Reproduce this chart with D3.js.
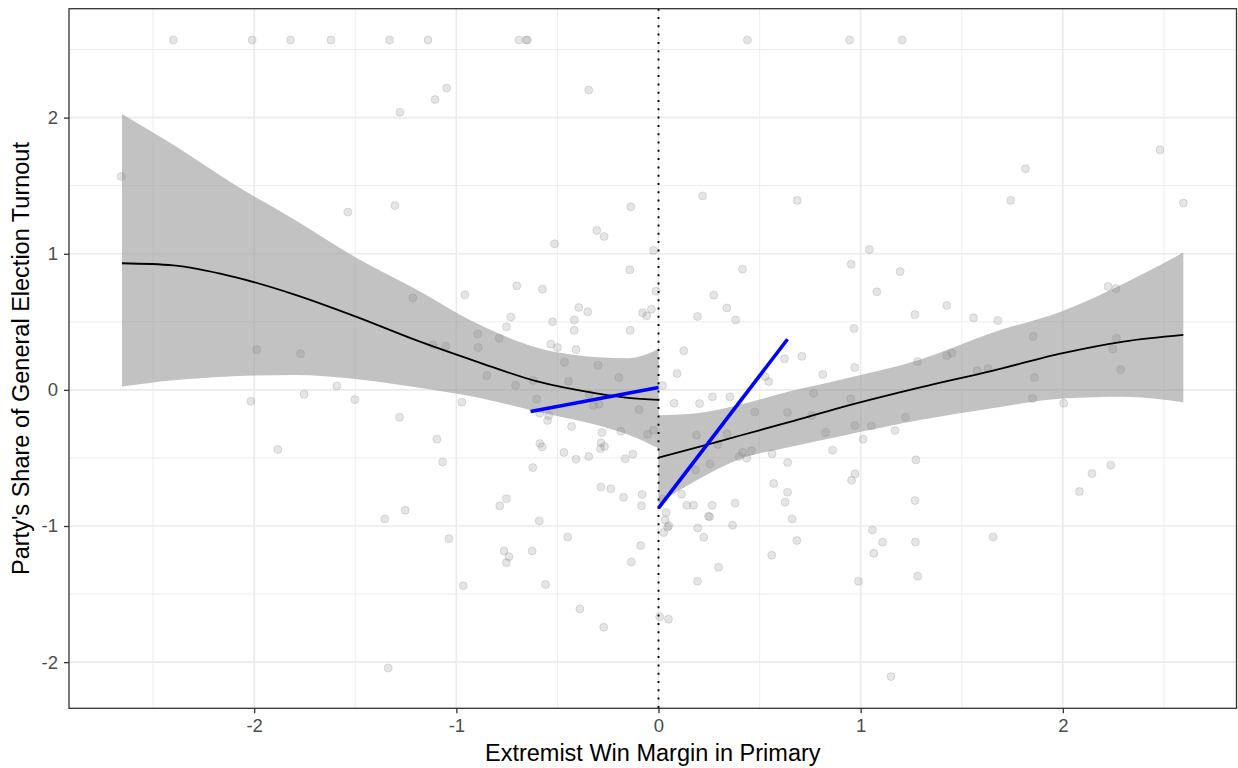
<!DOCTYPE html>
<html>
<head>
<meta charset="utf-8">
<script src="https://cdn.jsdelivr.net/npm/d3@7"></script>
<style>
  html, body { margin: 0; padding: 0; background: #ffffff; }
  svg { display: block; font-family: "Liberation Sans", Arial, sans-serif; }
</style>
</head>
<body>
<svg id="chart" width="1238" height="768"></svg>
<script>
// Extremist win margin (x) and party's share of general-election turnout (y) per race
const margin = [
  -2.40, -2.01, -1.82, -1.62, -1.33, -1.14, -0.69, -0.655, -0.648, 0.44, 0.945, 1.205,
  -1.048, -1.105, -1.279, -2.658, -1.537, -1.304,
  -0.345, 0.218, 0.686, -0.137, -0.305, -0.269, -0.514, -0.025,
  2.481, 1.815, 1.742, 2.596, 1.043,
  -1.215, -0.958, -0.894, -0.892, -1.116, -1.052, -1.987, -1.771, -1.591, -1.753, -2.016, -1.502, -0.973, -1.281, -1.096, -1.068, -1.883, -1.253,
  -1.354, -1.037, -0.966, -1.337,
  -0.142, 0.415, 0.953, -0.701, -0.574, -0.013, 0.273, 0.338, 0.382, 0.193, -0.394, -0.350, -0.079, -0.058, -0.035, -0.730, -0.752, -0.524, -0.417, -0.417, -0.140,
  -0.788, -0.533, -0.500, -0.408, 0.125, 0.967, 0.971, 0.623, 0.709, -0.465, -0.299, -0.849, -0.196, 0.092, 0.527, 0.545, 0.813, -0.445, -0.707, -0.620, 0.020,
  0.767, 0.951, -0.343, -0.603, -0.321, -0.294, -0.096, 0.077, 0.203, 0.267, 0.353, 0.476, 0.638, 0.758, 0.827, 0.971, -0.587, -0.543, -0.549, -0.430,
  -0.186, -0.054, -0.025, -0.280, -0.587, -0.576, -0.284, -0.267, -0.287, -0.468, -0.408, -0.345, -0.165, -0.127, -0.622, 0.188, 0.293, 0.339, 0.254,
  0.183, 0.399, 0.415, 0.437, 0.460, 0.562, 0.639, 0.861, 0.972, 0.955, 0.570, 0.638, 0.626, 0.379, 0.265, 0.173, 0.140, 0.114, 0.020, -0.285, -0.236,
  -0.173, -0.081, -0.084, -0.752, -0.785,
  0.038, 0.033, 0.051, 0.045, 0.025, 0.247, 0.253, 0.366, 0.194, 0.224, 0.661, 0.684, 0.560, 0.297, 0.193, 0.989, -0.088, -0.134, -0.449, -0.590,
  -0.764, -0.740, -0.752, -0.625, -0.559, -0.389, -0.271, 0.006, 0.049,
  1.195, 1.080, 1.268, 1.426, 1.558, 1.678, 1.853, 2.224, 2.262, 2.265, 2.247, 2.286, 1.281, 1.426, 1.451, 1.576, 1.630, 1.860, 1.850, 2.004,
  1.053, 1.222, 1.170, 1.012, 1.273, 1.269, 2.237, 2.144, 2.082,
  1.058, 1.108, 1.065, 1.271, 1.282, 1.655, 1.150
];
const turnout = [
  2.57, 2.57, 2.57, 2.57, 2.57, 2.57, 2.57, 2.57, 2.57, 2.57, 2.57, 2.57,
  2.217, 2.133, 2.040, 1.567, 1.306, 1.354,
  2.202, 1.425, 1.391, 1.345, 1.171, 1.127, 1.073, 1.024,
  1.763, 1.624, 1.391, 1.372, 1.031,
  0.674, 0.698, 0.411, 0.311, 0.331, 0.321, 0.296, 0.265, 0.029, -0.032, -0.083, -0.071, -0.090, -0.201, -0.362, -0.529, -0.438, -0.885,
  -0.948, -1.093, -1.438, -2.043,
  0.882, 0.887, 0.923, 0.764, 0.740, 0.725, 0.696, 0.602, 0.514, 0.539, 0.605, 0.573, 0.566, 0.544, 0.593, 0.536, 0.463, 0.500, 0.514, 0.438, 0.438,
  0.380, 0.336, 0.311, 0.296, 0.287, 0.451, 0.164, 0.228, 0.247, 0.203, 0.181, 0.105, 0.091, 0.120, 0.098, 0.061, 0.113, 0.064, 0.034, 0.069, 0.032,
  -0.025, -0.066, -0.032, -0.069, -0.115, -0.105, -0.145, -0.098, -0.100, -0.051, -0.051, -0.162, -0.166, -0.188, -0.313, -0.262, -0.171, -0.188, -0.225, -0.269,
  -0.304, -0.326, -0.296, -0.313, -0.394, -0.419, -0.389, -0.416, -0.431, -0.460, -0.509, -0.490, -0.505, -0.473, -0.571, -0.333, -0.402, -0.323, -0.544,
  -0.588, -0.490, -0.458, -0.502, -0.448, -0.470, -0.534, -0.443, -0.617, -0.664, -0.688, -0.752, -0.825, -0.833, -0.848, -0.848, -0.848, -0.767, -0.803, -0.713, -0.727,
  -0.789, -0.769, -0.852, -0.799, -0.852,
  -0.901, -0.955, -0.997, -1.009, -1.048, -0.928, -0.932, -0.994, -1.014, -1.082, -0.948, -1.107, -1.215, -1.303, -1.406, -1.406, -1.144, -1.264, -1.080, -0.963,
  -1.183, -1.225, -1.269, -1.183, -1.430, -1.609, -1.744, -1.666, -1.685,
  0.869, 0.720, 0.553, 0.620, 0.529, 0.509, 0.392, 0.759, 0.744, 0.380, 0.301, 0.149, 0.208, 0.252, 0.270, 0.140, 0.157, 0.091, -0.064, -0.098,
  -0.265, -0.201, -0.299, -0.362, -0.514, -0.813, -0.553, -0.615, -0.747,
  -1.029, -1.119, -1.200, -1.117, -1.369, -1.080, -2.106
];

// Loess fit with 95% band, below the threshold (extremist lost)
const leftX   = [-2.654, -2.4, -2.1, -1.8, -1.5, -1.2, -0.9, -0.6, -0.3, -0.15, 0];
const leftFit = [0.930, 0.915, 0.830, 0.700, 0.540, 0.365, 0.208, 0.062, -0.027, -0.058, -0.073];
const leftLo  = [0.024, 0.070, 0.100, 0.110, 0.080, 0.020, -0.055, -0.160, -0.260, -0.330, -0.429];
const leftHi  = [2.026, 1.800, 1.510, 1.250, 0.975, 0.740, 0.490, 0.310, 0.240, 0.232, 0.300];

// Loess fit with 95% band, above the threshold (extremist won)
const rightX   = [0, 0.2, 0.4, 0.65, 0.9, 1.3, 1.65, 2.0, 2.3, 2.596];
const rightFit = [-0.497, -0.419, -0.337, -0.235, -0.130, 0.020, 0.140, 0.270, 0.355, 0.404];
const rightLo  = [-0.835, -0.655, -0.510, -0.420, -0.340, -0.220, -0.135, -0.063, -0.050, -0.090];
const rightHi  = [-0.186, -0.170, -0.110, -0.010, 0.075, 0.225, 0.420, 0.580, 0.780, 1.009];

// Local linear RD fits on each side of the cutoff
const rdLeftX  = [-0.633, 0];
const rdLeftY  = [-0.159, 0.017];
const rdRightX = [0, 0.638];
const rdRightY = [-0.869, 0.372];

const xMajor = [-2, -1, 0, 1, 2];
const xMinor = [-2.5, -1.5, -0.5, 0.5, 1.5, 2.5];
const yMajor = [-2, -1, 0, 1, 2];
const yMinor = [-1.5, -0.5, 0.5, 1.5, 2.5];

const xTitle = "Extremist Win Margin in Primary";
const yTitle = "Party's Share of General Election Turnout";

const svg = d3.select("#chart");
const panel = { left: 69, right: 1236.5, top: 8.7, bottom: 708.3 };

const x = d3.scaleLinear().domain([-2.916, 2.859]).range([panel.left, panel.right]);
const y = d3.scaleLinear().domain([-2.339, 2.800]).range([panel.bottom, panel.top]);

svg.append("rect").attr("width", 1238).attr("height", 768).attr("fill", "#ffffff");

svg.append("clipPath").attr("id", "panel-clip")
  .append("rect")
  .attr("x", panel.left).attr("y", panel.top)
  .attr("width", panel.right - panel.left).attr("height", panel.bottom - panel.top);

const plot = svg.append("g").attr("clip-path", "url(#panel-clip)");

// grid
plot.selectAll("line.xminor").data(xMinor).join("line")
  .attr("x1", d => x(d)).attr("x2", d => x(d))
  .attr("y1", panel.top).attr("y2", panel.bottom)
  .attr("stroke", "#ebebeb").attr("stroke-width", 0.9);
plot.selectAll("line.yminor").data(yMinor).join("line")
  .attr("y1", d => y(d)).attr("y2", d => y(d))
  .attr("x1", panel.left).attr("x2", panel.right)
  .attr("stroke", "#ebebeb").attr("stroke-width", 0.9);
plot.selectAll("line.xmajor").data(xMajor).join("line")
  .attr("x1", d => x(d)).attr("x2", d => x(d))
  .attr("y1", panel.top).attr("y2", panel.bottom)
  .attr("stroke", "#ebebeb").attr("stroke-width", 1.6);
plot.selectAll("line.ymajor").data(yMajor).join("line")
  .attr("y1", d => y(d)).attr("y2", d => y(d))
  .attr("x1", panel.left).attr("x2", panel.right)
  .attr("stroke", "#ebebeb").attr("stroke-width", 1.6);

// confidence bands
function band(xs, lo, hi) {
  return d3.area()
    .x((d, i) => x(xs[i]))
    .y0((d, i) => y(lo[i]))
    .y1((d, i) => y(hi[i]))
    .curve(d3.curveMonotoneX)(xs);
}
plot.append("path").attr("d", band(leftX, leftLo, leftHi)).attr("fill", "#999999").attr("fill-opacity", 0.6);
plot.append("path").attr("d", band(rightX, rightLo, rightHi)).attr("fill", "#999999").attr("fill-opacity", 0.6);

// scatter
plot.append("g").selectAll("circle").data(margin).join("circle")
  .attr("cx", d => x(d))
  .attr("cy", (d, i) => y(turnout[i]))
  .attr("r", 4)
  .attr("fill", "#7f7f7f").attr("fill-opacity", 0.2)
  .attr("stroke", "#7f7f7f").attr("stroke-opacity", 0.22).attr("stroke-width", 1);

// loess lines
function fitLine(xs, ys) {
  return d3.line().x((d, i) => x(xs[i])).y((d, i) => y(ys[i])).curve(d3.curveMonotoneX)(xs);
}
plot.append("path").attr("d", fitLine(leftX, leftFit)).attr("fill", "none").attr("stroke", "#000000").attr("stroke-width", 1.8);
plot.append("path").attr("d", fitLine(rightX, rightFit)).attr("fill", "none").attr("stroke", "#000000").attr("stroke-width", 1.8);

// threshold
plot.append("line")
  .attr("x1", x(0)).attr("x2", x(0))
  .attr("y1", panel.top).attr("y2", panel.bottom)
  .attr("stroke", "#000000").attr("stroke-width", 1.9)
  .attr("stroke-dasharray", "2,6.3");

// RD fits
plot.append("path").attr("d", fitLine(rdLeftX, rdLeftY)).attr("fill", "none").attr("stroke", "#0000ff").attr("stroke-width", 3.6);
plot.append("path").attr("d", fitLine(rdRightX, rdRightY)).attr("fill", "none").attr("stroke", "#0000ff").attr("stroke-width", 3.6);

// panel border
svg.append("rect")
  .attr("x", panel.left).attr("y", panel.top)
  .attr("width", panel.right - panel.left).attr("height", panel.bottom - panel.top)
  .attr("fill", "none").attr("stroke", "#333333").attr("stroke-width", 1.3);

// axes
const xAxis = d3.axisBottom(x).tickValues(xMajor).tickFormat(d => String(d)).tickSize(5).tickPadding(6);
const yAxis = d3.axisLeft(y).tickValues(yMajor).tickFormat(d => String(d)).tickSize(5).tickPadding(6);

const gx = svg.append("g").attr("transform", `translate(0,${panel.bottom})`).call(xAxis);
const gy = svg.append("g").attr("transform", `translate(${panel.left},0)`).call(yAxis);
[gx, gy].forEach(g => {
  g.select(".domain").remove();
  g.selectAll(".tick line").attr("stroke", "#333333").attr("stroke-width", 1.3);
  g.selectAll(".tick text").attr("fill", "#4d4d4d").attr("font-size", 18.5)
    .attr("font-family", "Liberation Sans, Arial, sans-serif");
});

svg.append("text")
  .attr("x", (panel.left + panel.right) / 2).attr("y", 761)
  .attr("text-anchor", "middle").attr("font-size", 23.5).attr("fill", "#000000")
  .text(xTitle);

svg.append("text")
  .attr("transform", `translate(29,${(panel.top + panel.bottom) / 2}) rotate(-90)`)
  .attr("text-anchor", "middle").attr("font-size", 23.5).attr("fill", "#000000")
  .text(yTitle);
</script>
</body>
</html>
